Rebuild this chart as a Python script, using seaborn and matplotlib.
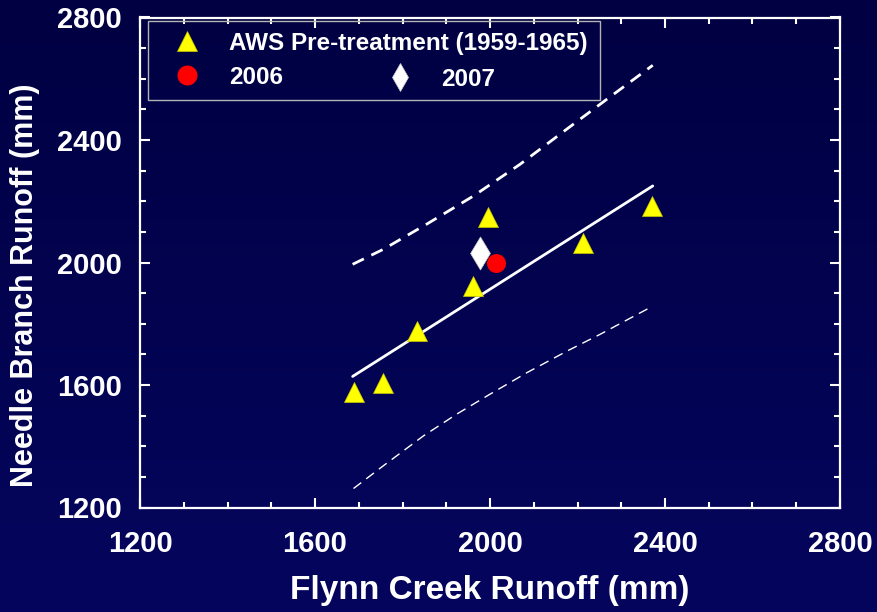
import numpy as np
import pandas as pd
import seaborn as sns
import matplotlib
matplotlib.use("Agg")
import matplotlib.pyplot as plt
from matplotlib.lines import Line2D
from matplotlib.patches import Rectangle
from matplotlib.colors import LinearSegmentedColormap

# ---- data ----
pre_x = [1688, 1756, 1832, 1960, 1995, 2212, 2370]
pre_y = [1576, 1606, 1777, 1924, 2147, 2063, 2185]
y2006_x = [2014]
y2006_y = [1998]
y2007_x = [1978]
y2007_y = [2031]
fit_x = [1686, 2372]
fit_y = [1628, 2250]
upper_x = [1686, 1756, 1855, 1962, 2069, 2175, 2267, 2372]
upper_y = [1994, 2043, 2125, 2217, 2321, 2435, 2533, 2644]
lower_x = [1688, 1756, 1848, 1924, 2000, 2084, 2175, 2251, 2366]
lower_y = [1262, 1336, 1434, 1505, 1570, 1640, 1710, 1765, 1853]
ticks = [1200, 1600, 2000, 2400, 2800]
legend_labels = ["AWS Pre-treatment (1959-1965)", "2006", "2007"]
xlabel = "Flynn Creek Runoff (mm)"
ylabel = "Needle Branch Runoff (mm)"

sns.set_theme(style="white")
plt.rcParams['font.family'] = ['Liberation Sans', 'DejaVu Sans']
plt.rcParams['font.weight'] = 'bold'

W, H = 878, 612
fig = plt.figure(figsize=(W / 100, H / 100), dpi=100)

# gradient background
bg = fig.add_axes([0, 0, 1, 1])
bg.set_zorder(-10)
cmap = LinearSegmentedColormap.from_list("bgc", ["#000042", "#05055e"])
grad = np.linspace(0, 1, 256).reshape(-1, 1)
bg.imshow(grad, aspect="auto", cmap=cmap, extent=[0, 1, 0, 1], origin="upper")
bg.axis("off")

ax = fig.add_axes([140 / W, 1 - 507.5 / H, 700 / W, 490 / H])
ax.set_facecolor("none")

pre_df = pd.DataFrame({"x": pre_x, "y": pre_y})
d06 = pd.DataFrame({"x": y2006_x, "y": y2006_y})
d07 = pd.DataFrame({"x": y2007_x, "y": y2007_y})
fit_df = pd.DataFrame({"x": fit_x, "y": fit_y})
up_df = pd.DataFrame({"x": upper_x, "y": upper_y})
lo_df = pd.DataFrame({"x": lower_x, "y": lower_y})

sns.lineplot(data=fit_df, x="x", y="y", ax=ax, color="white", lw=2.0,
             sort=False, estimator=None, zorder=2)
sns.lineplot(data=up_df, x="x", y="y", ax=ax, color="white", lw=2.0,
             linestyle=(0, (4.5, 3)), sort=False, estimator=None, zorder=2)
sns.lineplot(data=lo_df, x="x", y="y", ax=ax, color="white", lw=1.0,
             linestyle=(0, (7, 4.5)), sort=False, estimator=None, zorder=2)

sns.scatterplot(data=pre_df, x="x", y="y", ax=ax, marker="^", s=207,
                color="#ffff00", edgecolor="#c8c800", linewidth=0.5, zorder=3, legend=False)
sns.scatterplot(data=d06, x="x", y="y", ax=ax, marker="o", s=187,
                color="#ff0000", edgecolor="#ff0000", linewidth=0, zorder=3, legend=False)
sns.scatterplot(data=d07, x="x", y="y", ax=ax, marker="d", s=282,
                color="white", edgecolor="#d0d0d0", linewidth=0.5, zorder=3, legend=False)

ax.set_xlim(1200, 2800)
ax.set_ylim(1200, 2800)
ax.set_xticks(ticks)
ax.set_yticks(ticks)
ax.set_xticks(np.arange(1200, 2801, 100), minor=True)
ax.set_yticks(np.arange(1200, 2801, 100), minor=True)
ax.tick_params(which="both", direction="in", top=True, right=True, bottom=True, left=True,
               colors="white", width=1.5)
ax.tick_params(which="major", length=7.5, labelsize=21)
ax.tick_params(axis="x", which="major", pad=16)
ax.tick_params(axis="y", which="major", pad=13)
for lab in ax.get_xticklabels() + ax.get_yticklabels():
    lab.set_fontweight("bold")
    lab.set_color("white")
for sp in ax.spines.values():
    sp.set_visible(True)
    sp.set_color("white")
    sp.set_linewidth(1.6)

ax.set_xlabel(xlabel, fontsize=24, fontweight="bold", color="white")
ax.set_ylabel(ylabel, fontsize=22, fontweight="bold", color="white")
ax.xaxis.set_label_coords(0.5, (507.5 - 590) / 490)
ax.xaxis.label.set_va("center")
ax.yaxis.set_label_coords((25 - 140) / 700, (507.5 - 285) / 490)
ax.yaxis.label.set_va("center")

# legend frame
fig.patches.append(Rectangle((148 / W, 1 - 100 / H), 452 / W, 79 / H, transform=fig.transFigure,
                             fill=False, edgecolor="#b4b4b4", lw=1.0, zorder=5))

fs = 17.5
fpx = fs * 100 / 72
handles = [
    Line2D([], [], marker="^", ls="none", ms=14.4, color="#ffff00", mec="#c8c800", mew=0.5),
    Line2D([], [], marker="o", ls="none", ms=14.4, color="#ff0000", mew=0),
    Line2D([], [], marker="d", ls="none", ms=14.3, color="white", mec="#d0d0d0", mew=0.5),
]
spots = [(186.7, 43.5, 229), (186.7, 77, 229), (400, 79, 441)]
for h, lab, (mx, my, tx) in zip(handles, legend_labels, spots):
    x0 = mx - fpx * 0.5
    htp = (tx - x0 - fpx) / fpx
    leg = fig.legend(handles=[h], labels=[lab], loc="center left",
                     bbox_to_anchor=(x0 / W, 1 - my / H), bbox_transform=fig.transFigure,
                     frameon=False, borderpad=0, borderaxespad=0, handlelength=1.0,
                     handletextpad=htp, numpoints=1,
                     prop={"size": fs, "weight": "bold", "family": ["Liberation Sans", "DejaVu Sans"]})
    for t in leg.get_texts():
        t.set_color("white")

fig.savefig("out.png", dpi=100)
